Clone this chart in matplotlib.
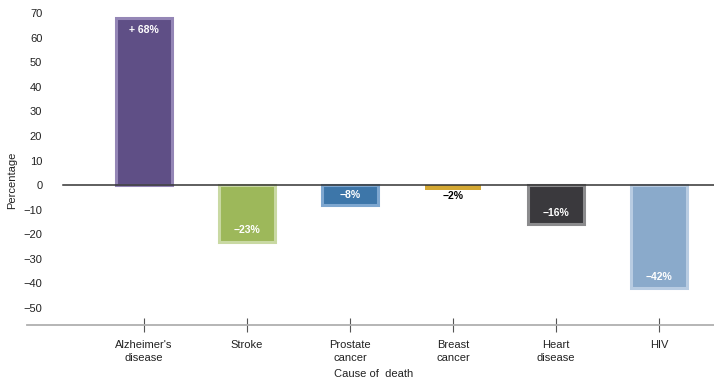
import matplotlib.pyplot as plt
from matplotlib import font_manager

causes = ["Alzheimer's\ndisease", "Stroke", "Prostate\ncancer", "Breast\ncancer", "Heart\ndisease", "HIV"]
change = [68, -23, -8, -2, -16, -42]
labels = ["+ 68%", "\u221223%", "\u22128%", "\u22122%", "\u221216%", "\u221242%"]
fills = ["#5f4f86", "#9db85a", "#3d76a9", "#d4a833", "#3a393d", "#8aaacb"]
edges = ["#9486b6", "#c9d9a3", "#7ea7d0", "#d4a833", "#8b8b8d", "#b8cce2"]
yticks = [70, 60, 50, 40, 30, 20, 10, 0, -10, -20, -30, -40, -50]

names = {f.name for f in font_manager.fontManager.ttflist}
family = ["Liberation Sans Narrow", "DejaVu Sans"] if "Liberation Sans Narrow" in names else ["Liberation Sans", "DejaVu Sans"]
plt.rcParams["font.family"] = family

fig = plt.figure(figsize=(7.14, 3.82), dpi=100)
ax = fig.add_axes([27 / 714, 57 / 382, 1 - 27 / 714, 1 - 57 / 382])

x = list(range(len(causes)))
# small bars get no border so they stay a thin strip
widths = [2.2 if abs(v) >= 5 else 0 for v in change]
ax.bar(x, change, width=0.545, color=fills, edgecolor=edges, linewidth=widths, zorder=2)

for i, (v, t) in enumerate(zip(change, labels)):
    if abs(v) < 5:
        ax.text(i, v - 2.6, t, ha="center", va="center", fontsize=7.5,
                fontweight="bold", color="black", zorder=4)
    else:
        off = min(4.8, abs(v) / 2)
        ax.text(i, v - off * (1 if v > 0 else -1), t, ha="center", va="center",
                fontsize=7.5, fontweight="bold", color="white", zorder=4)

ax.set_xlim(-1.136, 5.534)
ax.set_ylim(-56.9, 75.3)

# zero line starts a bit right of the tick labels
ax.plot([-0.79, 5.534], [0, 0], color="#333333", linewidth=1.1, zorder=3, clip_on=False)

for s in ["top", "right", "left"]:
    ax.spines[s].set_visible(False)
ax.spines["bottom"].set_color("#b0b0b0")
ax.spines["bottom"].set_linewidth(1.3)

ax.set_xticks(x)
ax.set_xticklabels(causes, fontsize=8, color="#222222", linespacing=1.3)
ax.tick_params(axis="x", direction="inout", length=10, width=0.8, color="#555555", pad=6)

ax.set_yticks(yticks)
ax.set_yticklabels([str(v).replace("-", "\u2212") for v in yticks], fontsize=8, color="#222222")
ax.tick_params(axis="y", length=0, pad=-11)
for lbl in ax.get_yticklabels():
    lbl.set_horizontalalignment("right")

fig.text(12 / 714, 1 - 180 / 382, "Percentage", rotation=90, ha="center", va="center",
         fontsize=8, color="#222222")
fig.text(374 / 714, 1 - 374 / 382, "Cause of  death", ha="center", va="center",
         fontsize=8, color="#222222")

fig.savefig("out.png", dpi=100)
